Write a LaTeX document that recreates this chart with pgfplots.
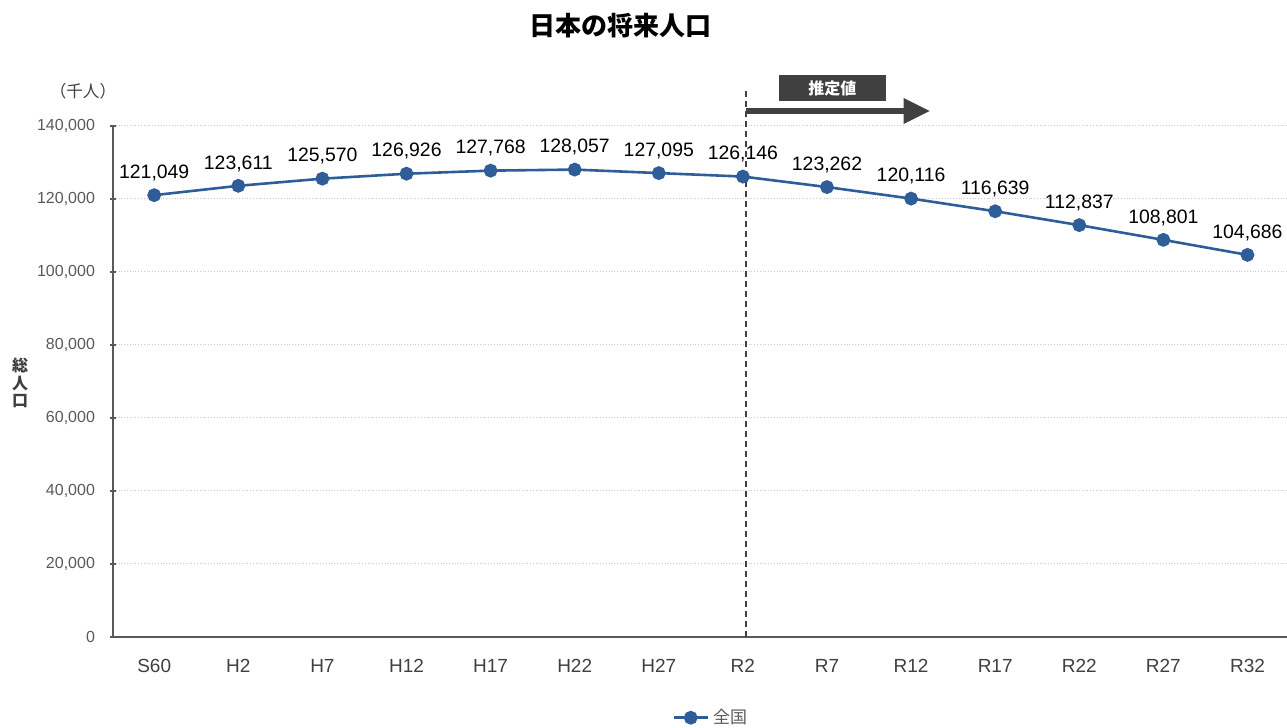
\documentclass[border=0pt]{standalone}
\usepackage{fontspec}
\setmainfont{Liberation Sans}
\newfontfamily\jp{Noto Sans CJK JP}
\usepackage{pgfplots}
\pgfplotsset{compat=1.18}
\definecolor{series}{RGB}{46,93,152}
\definecolor{axisgray}{RGB}{89,89,89}
\definecolor{gridgray}{RGB}{200,200,200}
\definecolor{boxgray}{RGB}{64,64,64}
\begin{document}
\begin{tikzpicture}
\useasboundingbox (0,0) rectangle (643.5pt,364pt);
\begin{axis}[
  at={(56.5pt,45.5pt)}, anchor=south west,
  scale only axis, width=587pt, height=255.5pt,
  xmin=-0.49, xmax=13.47, ymin=0, ymax=140000,
  xtick={0,...,13},
  xticklabels={S60,H2,H7,H12,H17,H22,H27,R2,R7,R12,R17,R22,R27,R32},
  ytick={0,20000,...,140000},
  scaled y ticks=false,
  /pgf/number format/assume math mode=true,
  y tick label style={font=\fontsize{8}{9}\selectfont, color=axisgray, xshift=-4pt},
  yticklabel={\pgfmathprintnumber[fixed,1000 sep={,}]{\tick}},
  xticklabel style={font=\fontsize{9.5}{11}\selectfont, color=boxgray, yshift=-6pt},
  axis x line*=bottom, axis y line*=left,
  axis line style={draw=axisgray, line width=0.6pt},
  x axis line style={-}, y axis line style={-},
  major x tick style={draw=none},
  major y tick style={draw=axisgray, line width=0.6pt},
  tick align=center, major tick length=3pt,
  ymajorgrids, major grid style={gridgray, densely dotted, line width=0.5pt},
  clip=false,
  legend style={at={(0.51,-0.158)}, anchor=center, draw=none, fill=none,
    font=\jp\fontsize{8.5}{10}\selectfont, text=axisgray, inner sep=0pt},
]
\addplot[color=series, line width=1.3pt, mark=*, mark size=2.8pt,
  mark options={fill=series, draw=series},
  nodes near coords={\pgfmathprintnumber[fixed,1000 sep={,}]{\pgfplotspointmeta}},
  nodes near coords style={font=\fontsize{9.7}{11}\selectfont, color=black, anchor=south, inner sep=0pt, yshift=6.5pt},
] coordinates {
  (0,121049) (1,123611) (2,125570) (3,126926) (4,127768) (5,128057) (6,127095)
  (7,126146) (8,123262) (9,120116) (10,116639) (11,112837) (12,108801) (13,104686)
};
\addlegendentry{全国}
% boundary between actual and projected values
\draw[boxgray, line width=0.8pt, dash pattern=on 3pt off 2pt] (axis cs:7.04,0) -- (axis cs:7.04,150411);
\draw[boxgray, line width=3pt] (axis cs:7.04,144110) -- (axis cs:8.95,144110);
\fill[boxgray] (axis cs:8.91,147672) -- (axis cs:9.22,144110) -- (axis cs:8.91,140548) -- cycle;
\fill[boxgray] (axis cs:7.43,146849) rectangle (axis cs:8.70,153972);
\node[text=white, font=\jp\bfseries\fontsize{8}{9}\selectfont] at (axis cs:8.065,150410) {推定値};
\end{axis}
\node[font=\jp\bfseries\fontsize{13}{15}\selectfont] at (310pt,351pt) {日本の将来人口};
\node[font=\jp\fontsize{8.3}{9}\selectfont, text=boxgray] at (41.5pt,318.5pt) {（千人）};
\node[font=\jp\bfseries\fontsize{8}{8.8}\selectfont, text=boxgray, align=center] at (10pt,172.5pt) {総\\人\\口};
\end{tikzpicture}
\end{document}
